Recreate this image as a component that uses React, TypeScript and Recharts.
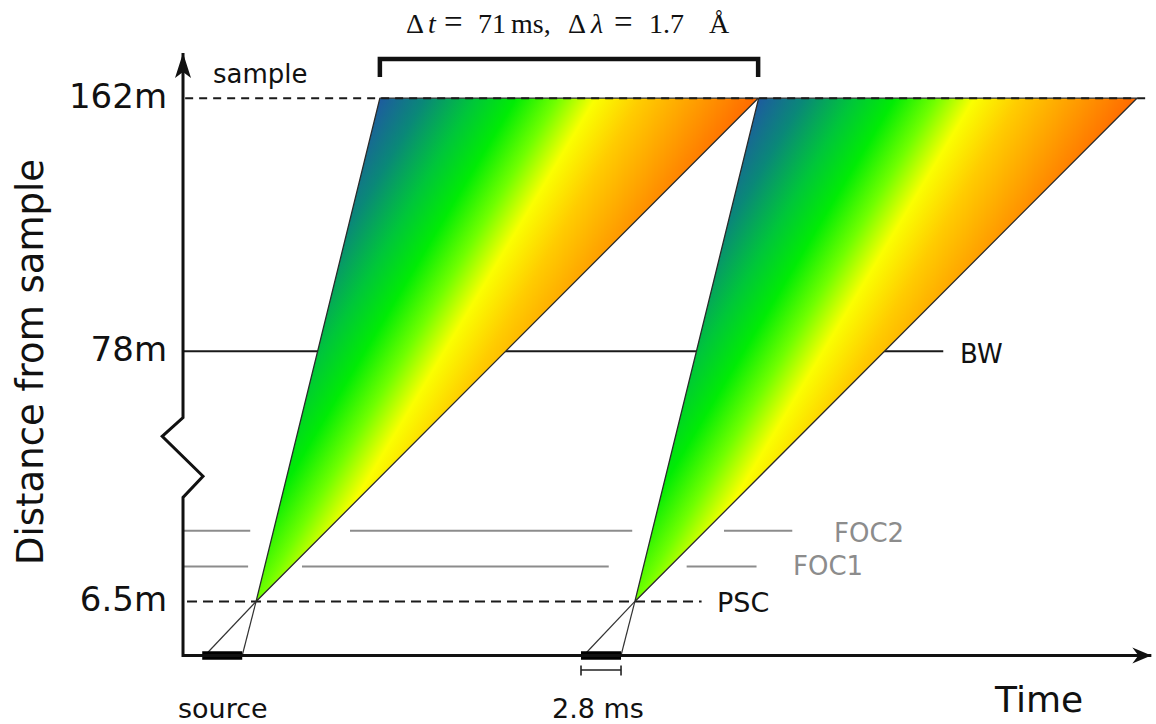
import { ComposedChart, Line, Scatter, XAxis, YAxis } from "recharts";

// chopper timing diagram, two frames
const FRAME_PERIOD = 71; // ms (label only)
const pulseStart = [3.6, 74.6]; // ms, source pulse as drawn
const pulseEnd = [11.1, 82.1];
const chopperOpen = [13.7, 84.7]; // PSC opening
const fastArrival = [36.9, 107.9]; // at sample
const slowArrival = [107.8, 178.8];

const distTicks = [6.5, 78, 162]; // m
const PSC = 6.5;
const BW = 78;
const SAMPLE = 162;

const focNames = ["FOC1", "FOC2"];
const focDist = [10.7, 15.0];
const focSegments = [
  [[0, 12.2], [22.3, 79.8], [94.4, 107.5]],
  [[0, 12.6], [31.3, 84.2], [101.4, 114.2]],
];

const gradientOffsets = [0, 0.12, 0.25, 0.36, 0.47, 0.57, 0.69, 0.83, 1];
const gradientColors = ["#1d5c9f", "#0a8878", "#00c63a", "#00ec04", "#70ff00", "#faff00", "#ffcc00", "#ffa000", "#ff6a00"];

// broken y axis: meters -> fraction of the plot height
const KNOT_M = [0, 19, 56, 178];
const KNOT_F = [0, 0.261, 0.393, 1];

function brokenScale(r: number[] = [1, 0]): any {
  let rng = r;
  const s: any = (m: number) => {
    let i = 0;
    while (i < KNOT_M.length - 2 && m > KNOT_M[i + 1]) i++;
    const f = KNOT_F[i] + ((m - KNOT_M[i]) / (KNOT_M[i + 1] - KNOT_M[i])) * (KNOT_F[i + 1] - KNOT_F[i]);
    return rng[0] + f * (rng[1] - rng[0]);
  };
  s.domain = (d?: number[]) => (d ? s : [KNOT_M[0], KNOT_M[KNOT_M.length - 1]]);
  s.range = (v?: number[]) => {
    if (v) {
      rng = v;
      return s;
    }
    return rng;
  };
  s.copy = () => brokenScale(rng);
  s.ticks = () => distTicks;
  return s;
}

const axisPath = [
  { t: 0, d: 177 },
  { t: 0, d: 56 },
  { t: -3.9, d: 47.3 },
  { t: 3.75, d: 28.8 },
  { t: 0, d: 19 },
  { t: 0, d: 0 },
  { t: 181.5, d: 0 },
];

const FONT = "DejaVu Sans";
const SERIF = "Liberation Serif";

const seg = (a: number, b: number, d: number) => [
  { t: a, d },
  { t: b, d },
];

const DistTick = ({ y, payload }: any) => (
  <text x={167} y={y + 10} textAnchor="end" fontSize={34} fontFamily={FONT} fill="#111">
    {payload.value}m
  </text>
);

const triangle = (id: string) => (props: any) => {
  const pts = props.points as { x: number; y: number }[];
  const path = pts.map((p, i) => `${i ? "L" : "M"}${p.x},${p.y}`).join(" ") + " Z";
  return (
    <g>
      <defs>
        <linearGradient id={id} x1="0.247" y1="0" x2="0.801" y2="0.332">
          {gradientOffsets.map((o, i) => (
            <stop key={i} offset={o} stopColor={gradientColors[i]} />
          ))}
        </linearGradient>
      </defs>
      <path d={path} fill={`url(#${id})`} stroke="#2a2a2a" strokeWidth={1.3} strokeLinejoin="round" />
    </g>
  );
};

const arrowDot = (p: any) => {
  const { cx, cy, index } = p;
  if (index === 0)
    return <path key="up" d={`M${cx},${cy} L${cx - 8},${cy + 25} L${cx},${cy + 19} L${cx + 8},${cy + 25} Z`} fill="#111" />;
  if (index === axisPath.length - 1)
    return <path key="right" d={`M${cx},${cy} L${cx - 19},${cy - 8} L${cx - 13},${cy} L${cx - 19},${cy + 8} Z`} fill="#111" />;
  return <g key={index} />;
};

export default function App() {
  return (
    <div style={{ position: "absolute", left: 0, top: 0, width: 1156, height: 724, background: "#fff" }}>
      <ComposedChart width={1156} height={724} margin={{ top: 50, right: 2, bottom: 68.5, left: 0 }}>
        <XAxis type="number" dataKey="t" domain={[-6, 182]} hide />
        <YAxis
          type="number"
          dataKey="d"
          scale={brokenScale()}
          domain={[0, 178]}
          ticks={distTicks}
          interval={0}
          width={151}
          axisLine={false}
          tickLine={false}
          tick={<DistTick />}
        />

        {/* BW level, under the frames */}
        <Line data={seg(0, 142.5, BW)} dataKey="d" stroke="#1a1a1a" strokeWidth={1.8} dot={false} isAnimationActive={false} />

        {focSegments.map((segs, k) =>
          segs.map(([a, b], j) => (
            <Line
              key={`${focNames[k]}-${j}`}
              data={seg(a, b, focDist[k])}
              dataKey="d"
              stroke="#8c8c8c"
              strokeWidth={2}
              dot={false}
              isAnimationActive={false}
            />
          ))
        )}

        <Line data={seg(0.75, 97.2, PSC)} dataKey="d" stroke="#1a1a1a" strokeWidth={2} strokeDasharray="10 6" dot={false} isAnimationActive={false} />

        {chopperOpen.map((c, k) => (
          <Line key={`fast-${k}`} data={[{ t: pulseEnd[k], d: 0 }, { t: c, d: PSC }]} dataKey="d" stroke="#333" strokeWidth={1.2} dot={false} isAnimationActive={false} />
        ))}
        {chopperOpen.map((c, k) => (
          <Line key={`slow-${k}`} data={[{ t: pulseStart[k] + 0.5, d: 0 }, { t: c, d: PSC }]} dataKey="d" stroke="#333" strokeWidth={1.2} dot={false} isAnimationActive={false} />
        ))}

        {chopperOpen.map((c, k) => (
          <Scatter
            key={`frame-${k}`}
            data={[
              { t: c, d: PSC },
              { t: fastArrival[k], d: SAMPLE },
              { t: slowArrival[k], d: SAMPLE },
            ]}
            line={triangle(`frameGrad${k}`)}
            lineType="joint"
            shape={() => <g />}
            isAnimationActive={false}
          />
        ))}

        {/* sample level, over the frames */}
        <Line data={seg(0.4, 181, SAMPLE)} dataKey="d" stroke="#1a1a1a" strokeWidth={2} strokeDasharray="8 6" dot={false} isAnimationActive={false} zIndex={900} />

        {/* bracket over one frame */}
        <Line
          data={[
            { t: fastArrival[0], d: 169 },
            { t: fastArrival[0], d: 175 },
            { t: slowArrival[0], d: 175 },
            { t: slowArrival[0], d: 169 },
          ]}
          dataKey="d"
          stroke="#111"
          strokeWidth={4.5}
          strokeLinejoin="miter"
          dot={false}
          isAnimationActive={false}
          zIndex={900}
        />

        {/* source pulses */}
        {pulseStart.map((a, k) => (
          <Line key={`pulse-${k}`} data={seg(a, pulseEnd[k], 0)} dataKey="d" stroke="#000" strokeWidth={8.5} dot={false} isAnimationActive={false} zIndex={900} />
        ))}

        {/* pulse width marker */}
        <Line data={seg(pulseStart[1], pulseEnd[1], -1.75)} dataKey="d" stroke="#222" strokeWidth={1.6} dot={false} isAnimationActive={false} />
        <Line data={[{ t: pulseStart[1], d: -1.2 }, { t: pulseStart[1], d: -2.4 }]} dataKey="d" stroke="#222" strokeWidth={1.6} dot={false} isAnimationActive={false} />
        <Line data={[{ t: pulseEnd[1], d: -1.2 }, { t: pulseEnd[1], d: -2.4 }]} dataKey="d" stroke="#222" strokeWidth={1.6} dot={false} isAnimationActive={false} />

        {/* axes with break */}
        <Line data={axisPath} dataKey="d" stroke="#111" strokeWidth={3} strokeLinejoin="miter" dot={arrowDot} isAnimationActive={false} zIndex={900} />

        <text y={33} fontFamily={SERIF} fontSize={28} fill="#111">
          <tspan x={406}>Δ</tspan>
          <tspan x={428} fontStyle="italic">t</tspan>
          <tspan x={444} fontSize={33}>=</tspan>
          <tspan x={478}>{FRAME_PERIOD}</tspan>
          <tspan x={511}>ms,</tspan>
          <tspan x={568}>Δ</tspan>
          <tspan x={591} fontStyle="italic">λ</tspan>
          <tspan x={614} fontSize={33}>=</tspan>
          <tspan x={649}>1.7</tspan>
          <tspan x={709}>Å</tspan>
        </text>
        <text transform="translate(43,362) rotate(-90)" textAnchor="middle" fontFamily={FONT} fontSize={37} fill="#111">
          Distance from sample
        </text>
        <text x={213} y={83} fontFamily={FONT} fontSize={26} fill="#111">sample</text>
        <text x={960} y={363} fontFamily={FONT} fontSize={26} fill="#111">BW</text>
        <text x={834} y={542} fontFamily={FONT} fontSize={26} fill="#8c8c8c">{focNames[1]}</text>
        <text x={793} y={575} fontFamily={FONT} fontSize={26} fill="#8c8c8c">{focNames[0]}</text>
        <text x={717} y={612} fontFamily={FONT} fontSize={27} fill="#111">PSC</text>
        <text x={178} y={718} fontFamily={FONT} fontSize={27} fill="#111">source</text>
        <text x={552} y={718} fontFamily={FONT} fontSize={27} fill="#111">2.8 ms</text>
        <text x={995} y={712} fontFamily={FONT} fontSize={36} fill="#111">Time</text>
      </ComposedChart>
    </div>
  );
}
